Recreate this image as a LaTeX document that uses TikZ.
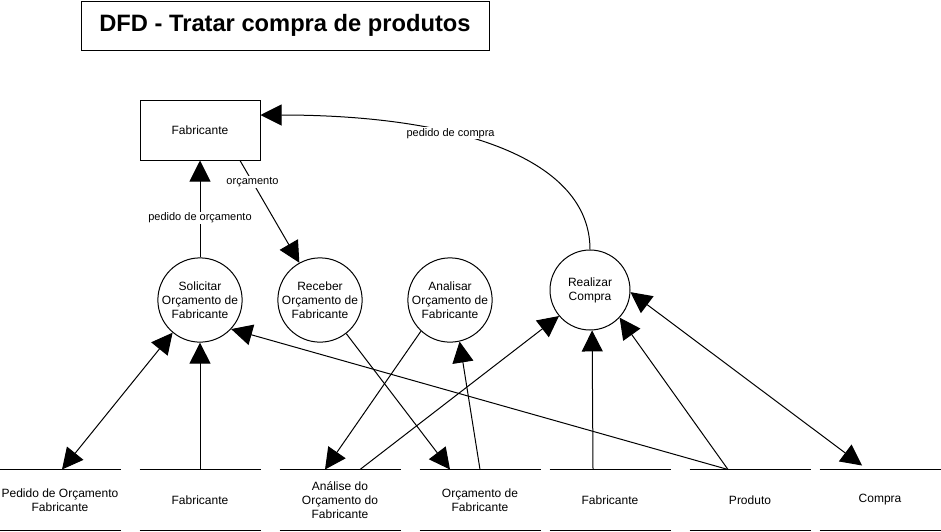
\documentclass[tikz,border=0pt]{standalone}
\usepackage{fontspec}
\setmainfont{Liberation Sans}
\usetikzlibrary{arrows.meta,calc}
\begin{document}
\begin{tikzpicture}[x=1pt,y=-1pt, line width=1pt,
  >={Triangle[length=21pt,width=21pt]},
  txt/.style={font=\fontsize{12}{14}\selectfont},
  proc/.style={circle, draw, minimum size=80pt, inner sep=0pt, align=center, txt},
  ent/.style={rectangle, draw, minimum width=120pt, minimum height=60pt, inner sep=0pt, txt},
  store/.style={rectangle, minimum width=120pt, minimum height=60pt, inner sep=0pt, align=center, txt},
  lbl/.style={fill=white, inner sep=1pt, font=\fontsize{11}{13}\selectfont},
  flow/.style={->},
  bidir/.style={<->}
]
\useasboundingbox (0,0) rectangle (941,531);

% title
\node[draw, minimum width=408pt, minimum height=49pt, inner sep=0pt,
      font=\fontsize{23.7}{28}\selectfont\bfseries] (title) at (285,25.5) {DFD - Tratar compra de produtos};

% external entity
\node[ent] (fab) at (200,130) {Fabricante};

% processes
\node[proc] (sol) at (200,300) {Solicitar\\Or\c{c}amento de\\Fabricante};
\node[proc] (rec) at (320,300) {Receber\\Or\c{c}amento de\\Fabricante};
\node[proc] (ana) at (450,300) {Analisar\\Or\c{c}amento de\\Fabricante};
\node[proc] (rea) at (590,290) {Realizar\\Compra};

% data stores
\node[store] (s1) at (60,500)  {Pedido de Or\c{c}amento\\Fabricante};
\node[store] (s2) at (200,500) {Fabricante};
\node[store] (s3) at (340,500) {An\'alise do\\Or\c{c}amento do\\Fabricante};
\node[store] (s4) at (480,500) {Or\c{c}amento de\\Fabricante};
\node[store] (s5) at (610,500) {Fabricante};
\node[store] (s6) at (750,500) {Produto};
\node[store] (s7) at (880,500) {Compra};
\foreach \s in {s1,s2,s3,s4,s5,s6,s7}{
  \draw (\s.north west) -- (\s.north east);
  \draw (\s.south west) -- (\s.south east);
}

% flows
\draw[flow] (sol) -- (fab.south) node[lbl, pos=0.41] {pedido de or\c{c}amento};
\draw[flow] ([xshift=40pt]fab.south) -- (rec.119) node[lbl, pos=0.21] {or\c{c}amento};
\draw[flow] (rea.north) .. controls +(0,-90) and +(200,0) .. ([yshift=15pt]fab.east)
   node[lbl, pos=0.63] {pedido de compra};

\draw[bidir] ([xshift=2pt]s1.north) -- (sol.230);
\draw[flow] (s2.north) -- (sol.south);
\draw[flow] ([xshift=-22pt]s6.north) -- (sol.-43);
\draw[flow] (rec.-52) -- ([xshift=-30pt]s4.north);
\draw[flow] (ana.227) -- ([xshift=-15pt]s3.north);
\draw[flow] (s4.north) -- (ana.-77);
\draw[flow] ([xshift=20pt]s3.north) -- (rea.220);
\draw[flow] ([xshift=-17pt]s5.north) -- (rea.-87);
\draw[flow] ([xshift=-22pt]s6.north) -- (rea.-43);
\draw[bidir] (rea.-3) -- ([xshift=-18pt,yshift=4pt]s7.north);
\end{tikzpicture}
\end{document}
